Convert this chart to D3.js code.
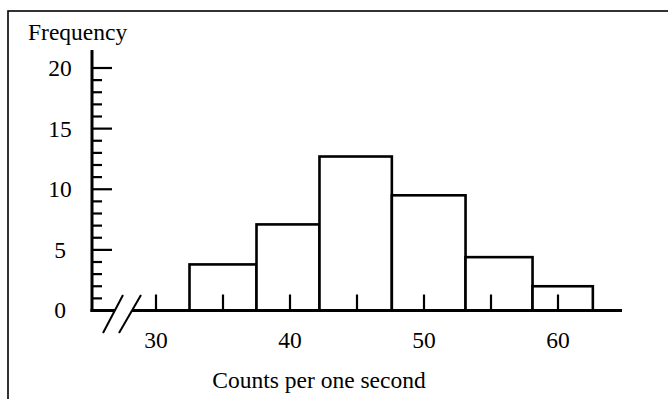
<!DOCTYPE html>
<html>
<head>
<meta charset="utf-8">
<script src="https://cdn.jsdelivr.net/npm/d3@7"></script>
<style>
  body { margin: 0; background: #fff; }
  text { font-family: "Liberation Serif", "Times New Roman", serif; fill: #000; }
</style>
</head>
<body>
<div id="chart"></div>
<script>
// histogram data
const binEdges = [32.5, 37.5, 42.2, 47.6, 53.1, 58.1, 62.6];
const frequencies = [3.8, 7.1, 12.7, 9.5, 4.4, 2.0];
const xTicks = [30, 35, 40, 45, 50, 55, 60];
const xTickLabels = [30, 40, 50, 60];
const yMinorTicks = d3.range(1, 21);
const yTickLabels = [0, 5, 10, 15, 20];

const width = 668;
const height = 399;
const fontSize = 23.5;

const svg = d3.select("#chart")
  .append("svg")
  .attr("width", width)
  .attr("height", height);

// outer frame (runs off the right and bottom edges)
svg.append("rect")
  .attr("x", 8)
  .attr("y", 11)
  .attr("width", 700)
  .attr("height", 420)
  .attr("fill", "none")
  .attr("stroke", "#000")
  .attr("stroke-width", 1.6);

// scales
const x = d3.scaleLinear().domain([30, 60]).range([156, 558]);
const y = d3.scaleLinear().domain([0, 20]).range([310.5, 68]);

const axisX = 92;
const baseY = y(0);

// bars
const bins = frequencies.map((f, i) => ({ x0: binEdges[i], x1: binEdges[i + 1], f }));
svg.append("g")
  .selectAll("rect")
  .data(bins)
  .enter()
  .append("rect")
  .attr("x", d => x(d.x0))
  .attr("y", d => y(d.f))
  .attr("width", d => x(d.x1) - x(d.x0))
  .attr("height", d => baseY - y(d.f))
  .attr("fill", "#fff")
  .attr("stroke", "#000")
  .attr("stroke-width", 2.6);

// y axis line + ticks
svg.append("line")
  .attr("x1", axisX).attr("x2", axisX)
  .attr("y1", 50).attr("y2", baseY + 1.5)
  .attr("stroke", "#000").attr("stroke-width", 3);

svg.append("g")
  .selectAll("line")
  .data(yMinorTicks)
  .enter()
  .append("line")
  .attr("x1", axisX)
  .attr("x2", d => d % 5 === 0 ? axisX + 20 : axisX + 10)
  .attr("y1", d => y(d))
  .attr("y2", d => y(d))
  .attr("stroke", "#000")
  .attr("stroke-width", 2.2);

svg.append("g")
  .selectAll("text")
  .data(yTickLabels)
  .enter()
  .append("text")
  .attr("x", 60)
  .attr("y", d => y(d))
  .attr("dy", "0.34em")
  .attr("text-anchor", "middle")
  .style("font-size", fontSize + "px")
  .text(d => d);

// x axis, broken near the origin
svg.append("line")
  .attr("x1", axisX - 1.5).attr("x2", 115)
  .attr("y1", baseY).attr("y2", baseY)
  .attr("stroke", "#000").attr("stroke-width", 3);
svg.append("line")
  .attr("x1", 132).attr("x2", 622)
  .attr("y1", baseY).attr("y2", baseY)
  .attr("stroke", "#000").attr("stroke-width", 3);

// break marks
[[103, 123], [119, 141]].forEach(([b, t]) => {
  svg.append("line")
    .attr("x1", b).attr("y1", 333)
    .attr("x2", t).attr("y2", 295)
    .attr("stroke", "#000").attr("stroke-width", 2);
});

// x ticks point upward
svg.append("g")
  .selectAll("line")
  .data(xTicks)
  .enter()
  .append("line")
  .attr("x1", d => x(d)).attr("x2", d => x(d))
  .attr("y1", baseY).attr("y2", baseY - 16)
  .attr("stroke", "#000")
  .attr("stroke-width", 2.2);

svg.append("g")
  .selectAll("text")
  .data(xTickLabels)
  .enter()
  .append("text")
  .attr("x", d => x(d))
  .attr("y", 348)
  .attr("text-anchor", "middle")
  .style("font-size", fontSize + "px")
  .text(d => d);

// axis titles
svg.append("text")
  .attr("x", 28)
  .attr("y", 40)
  .style("font-size", fontSize + "px")
  .text("Frequency");

svg.append("text")
  .attr("x", 319)
  .attr("y", 388)
  .attr("text-anchor", "middle")
  .style("font-size", fontSize + "px")
  .text("Counts per one second");
</script>
</body>
</html>
